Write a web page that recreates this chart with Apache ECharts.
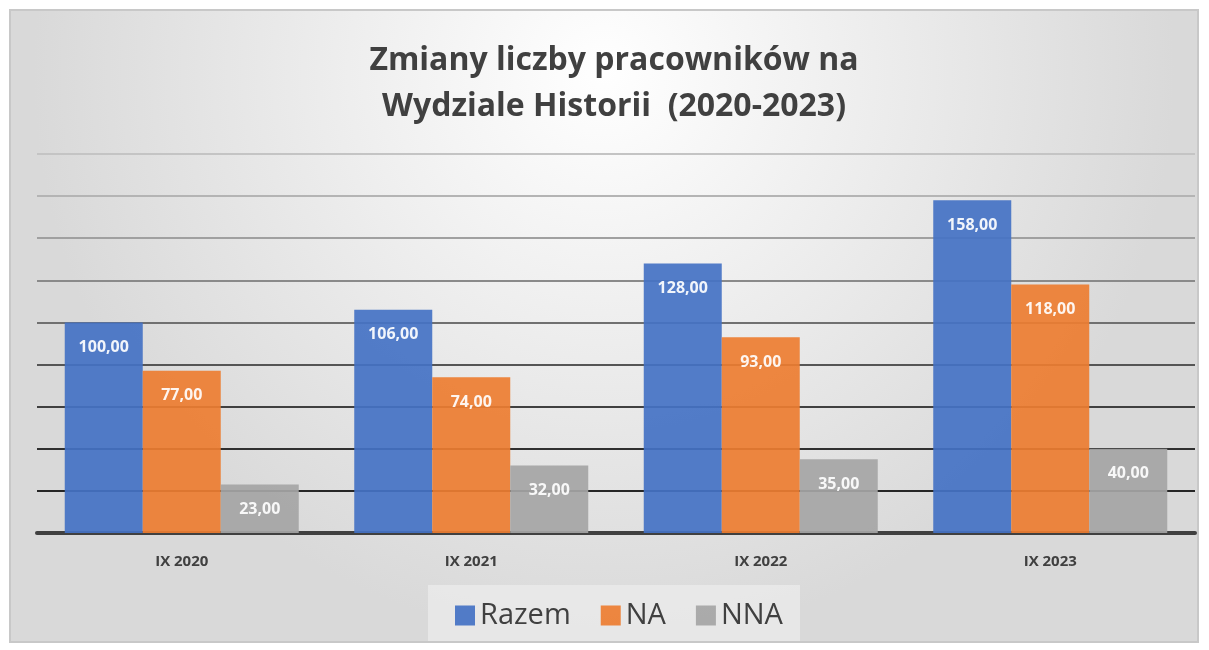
<!DOCTYPE html>
<html>
<head>
<meta charset="utf-8">
<script src="https://cdn.jsdelivr.net/npm/echarts@6/dist/echarts.min.js"></script>
<style>
  html, body { margin: 0; padding: 0; background: #ffffff; }
  #chart { width: 1209px; height: 650px; }
</style>
</head>
<body>
<div id="chart"></div>
<script>
var categories = ['IX 2020', 'IX 2021', 'IX 2022', 'IX 2023'];
var razem = [100, 106, 128, 158];
var na = [77, 74, 93, 118];
var nna = [23, 32, 35, 40];

var chart = echarts.init(document.getElementById('chart'));

// etykiety z przecinkiem, jak w oryginale
function fmt(p) {
  return p.value.toFixed(2).replace('.', ',');
}

var labelStyle = {
  show: true,
  position: 'insideTop',
  distance: 17,
  color: '#ffffff',
  fontFamily: 'Open Sans',
  fontWeight: 'bold',
  fontSize: 16,
  formatter: fmt
};

var option = {
  backgroundColor: '#ffffff',
  graphic: [{
    type: 'rect',
    z: -10,
    shape: { x: 10, y: 10, width: 1188, height: 632 },
    style: {
      fill: new echarts.graphic.RadialGradient(0.5, 0.1, 0.9, [
        { offset: 0, color: '#ffffff' },
        { offset: 1, color: '#d9d9d9' }
      ]),
      stroke: '#c8c8c8',
      lineWidth: 2
    }
  }, {
    type: 'rect',
    z: -5,
    shape: { x: 428, y: 585, width: 372, height: 56 },
    style: { fill: 'rgba(240,240,240,0.6)' }
  }],
  title: {
    text: 'Zmiany liczby pracowników na\nWydziale Historii  (2020-2023)',
    left: 609,
    top: 33,
    textAlign: 'center',
    textStyle: {
      fontFamily: 'Open Sans',
      fontWeight: 'bold',
      fontSize: 32,
      lineHeight: 46,
      color: '#404040'
    }
  },
  legend: {
    data: ['Razem', 'NA', 'NNA'],
    left: 450,
    top: 596,
    itemWidth: 20,
    itemHeight: 20,
    itemGap: 30,
    icon: 'rect',
    textStyle: {
      fontFamily: 'Open Sans',
      fontSize: 29,
      color: '#404040'
    }
  },
  grid: {
    left: 37,
    right: 14,
    top: 154,
    bottom: 117,
    containLabel: false
  },
  xAxis: {
    type: 'category',
    data: categories,
    axisTick: { show: false },
    axisLine: { lineStyle: { color: '#404040', width: 4 } },
    axisLabel: {
      margin: 21,
      fontFamily: 'Open Sans',
      fontWeight: 'bold',
      fontSize: 15,
      color: '#404040'
    }
  },
  yAxis: {
    type: 'value',
    min: 0,
    max: 180,
    interval: 20,
    axisLabel: { show: false },
    axisLine: { show: false },
    axisTick: { show: false },
    splitLine: {
      lineStyle: {
        width: 2,
        color: ['#404040', '#262626', '#303030', '#404040', '#555555', '#707070', '#8a8a8a', '#a0a0a0', '#b4b4b4', '#c4c4c4']
      }
    }
  },
  series: [{
    name: 'Razem',
    type: 'bar',
    data: razem,
    barWidth: 78,
    barGap: '0%',
    itemStyle: { color: '#4472C4', opacity: 0.92 },
    label: labelStyle
  }, {
    name: 'NA',
    type: 'bar',
    data: na,
    barWidth: 78,
    itemStyle: { color: '#ED7D31', opacity: 0.92 },
    label: labelStyle
  }, {
    name: 'NNA',
    type: 'bar',
    data: nna,
    barWidth: 78,
    itemStyle: { color: '#A5A5A5', opacity: 0.92 },
    label: labelStyle
  }]
};

chart.setOption(option);
</script>
</body>
</html>
